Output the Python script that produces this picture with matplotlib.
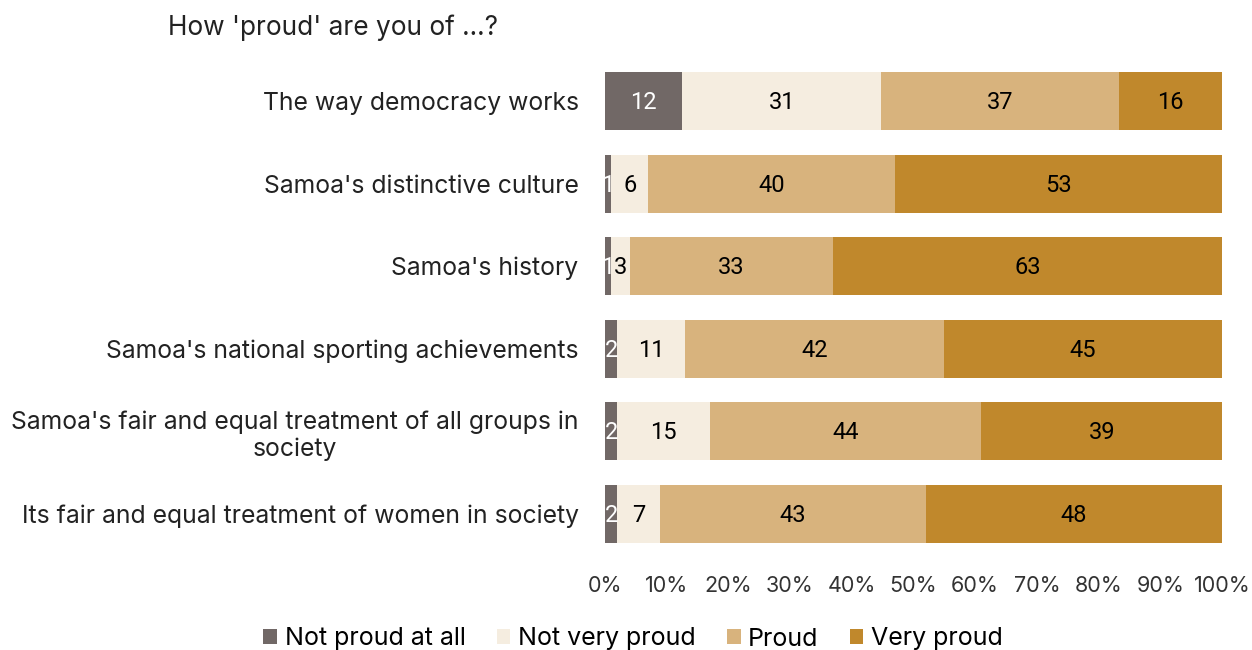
import numpy as np
import matplotlib.pyplot as plt
from matplotlib.patches import Patch

plt.rcParams['font.family'] = ['Inter', 'DejaVu Sans']

categories = [
    "The way democracy works",
    "Samoa's distinctive culture",
    "Samoa's history",
    "Samoa's national sporting achievements",
    "Samoa's fair and equal treatment of all groups in\nsociety",
    "Its fair and equal treatment of women in society",
]
series_names = ["Not proud at all", "Not very proud", "Proud", "Very proud"]
not_proud_at_all = [12, 1, 1, 2, 2, 2]
not_very_proud = [31, 6, 3, 11, 15, 7]
proud = [37, 40, 33, 42, 44, 43]
very_proud = [16, 53, 63, 45, 39, 48]

colors = ['#716866', '#F5EDE0', '#D8B37D', '#C0882C']
text_colors = ['white', 'black', 'black', 'black']

values = np.array([not_proud_at_all, not_very_proud, proud, very_proud], dtype=float)
totals = values.sum(axis=0)
shares = values / totals * 100

fig = plt.figure(figsize=(12.52, 6.5), dpi=100)
ax = fig.add_axes([0.4832, 0.146, 0.4928, 0.762])

y = np.arange(len(categories))
left = np.zeros(len(categories))
for i, name in enumerate(series_names):
    ax.barh(y, shares[i], left=left, height=0.7, color=colors[i], label=name)
    for j in range(len(categories)):
        ax.text(left[j] + shares[i][j] / 2, y[j] + 0.02, f"{int(values[i][j])}",
                ha='center', va='center', fontsize=17, color=text_colors[i],
                family=['Roboto', 'DejaVu Sans'])
    left += shares[i]

ax.set_xlim(0, 100)
ax.set_ylim(len(categories) - 0.5, -0.5)
ax.set_yticks(y)
ax.set_yticklabels(categories, fontsize=17.8, color='#222222', multialignment='center')
ax.set_xticks(np.arange(0, 101, 10))
ax.set_xticklabels([f"{v}%" for v in range(0, 101, 10)], fontsize=15.5, color='#333333')
ax.tick_params(axis='both', length=0)
ax.tick_params(axis='x', pad=15)
ax.tick_params(axis='y', pad=19)
for s in ax.spines.values():
    s.set_visible(False)

fig.text(168 / 1252, 1 - 28 / 650, "How 'proud' are you of ...?", fontsize=18.9,
         color='#222222', ha='left', va='center')

handles = [Patch(facecolor=c) for c in colors]
fig.legend(handles, series_names, loc='center', bbox_to_anchor=(633 / 1252, 1 - 639 / 650),
           ncol=4, frameon=False, fontsize=18, handlelength=0.55, handleheight=0.55,
           handletextpad=0.3, columnspacing=1.25)

fig.savefig('out.png', dpi=100)
